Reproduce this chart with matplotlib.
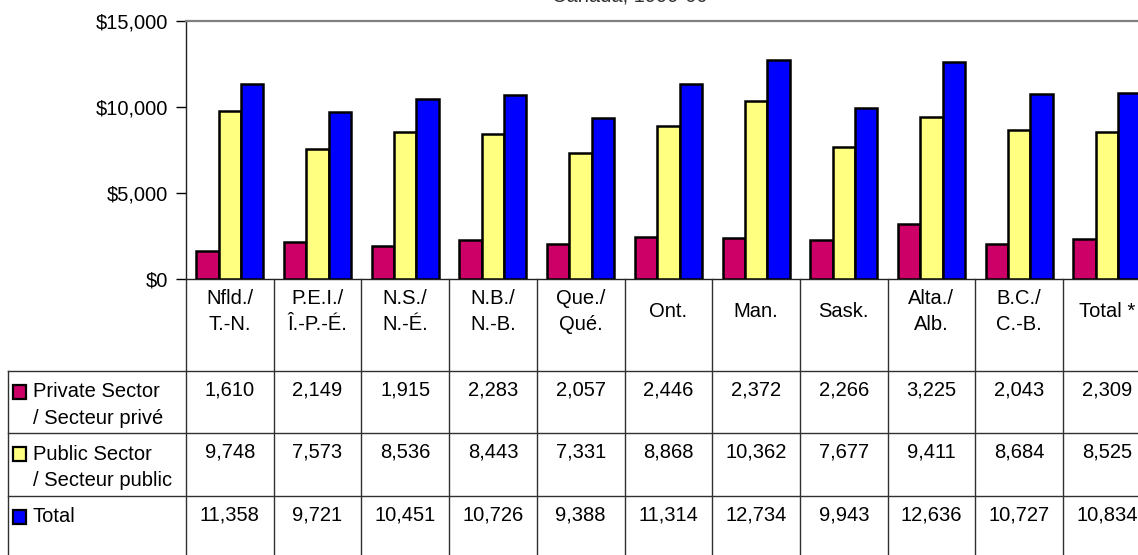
import matplotlib
matplotlib.use("Agg")
import matplotlib.pyplot as plt
import matplotlib.transforms as mtransforms
from matplotlib.patches import Rectangle
from matplotlib.ticker import FuncFormatter

plt.rcParams['font.family'] = ['Liberation Sans', 'DejaVu Sans']

# --- data ---
regions = ['Nfld./\nT.-N.', 'P.E.I./\nÎ.-P.-É.', 'N.S./\nN.-É.', 'N.B./\nN.-B.',
           'Que./\nQué.', 'Ont.', 'Man.', 'Sask.', 'Alta./\nAlb.', 'B.C./\nC.-B.',
           'Total *']
private = [1610, 2149, 1915, 2283, 2057, 2446, 2372, 2266, 3225, 2043, 2309]
public = [9748, 7573, 8536, 8443, 7331, 8868, 10362, 7677, 9411, 8684, 8525]
total = [11358, 9721, 10451, 10726, 9388, 11314, 12734, 9943, 12636, 10727, 10834]

series_names = ['Private Sector\n/ Secteur privé', 'Public Sector\n/ Secteur public', 'Total']
series_colors = ['#CC0066', '#FFFF80', '#0000FF']
y_ticks = [0, 5000, 10000, 15000]

W, H = 1138, 555
FS = 14.5
LINE = 26.5  # pixel gap between text lines in the table

fig = plt.figure(figsize=(W / 100, H / 100), dpi=100)

# plot area in pixel terms (runs past the right edge, as in the reference)
x_left, x_right = 186, 1150.7
y_top, y_zero = 21, 279
ax = fig.add_axes([x_left / W, 1 - y_zero / H, (x_right - x_left) / W, (y_zero - y_top) / H])

n = len(regions)
xs = list(range(n))
bw = 0.255
for k, vals in enumerate([private, public, total]):
    ax.bar([x + (k - 1) * bw for x in xs], vals, width=bw,
           color=series_colors[k], edgecolor='black', linewidth=1.8, zorder=3)

ax.set_xlim(-0.5, n - 0.5)
ax.set_ylim(0, 15000)
ax.set_yticks(y_ticks)
ax.yaxis.set_major_formatter(FuncFormatter(lambda v, p: f"${int(v):,}"))
ax.tick_params(axis='y', length=7, width=1, direction='out', pad=6, labelsize=FS)
ax.set_xticks([])
ax.spines['top'].set_color('#808080')
ax.spines['top'].set_linewidth(1.6)
ax.spines['right'].set_color('#808080')
ax.spines['left'].set_color('#202020')
ax.spines['bottom'].set_color('#202020')
ax.spines['left'].set_linewidth(1)
ax.spines['bottom'].set_linewidth(1)

# title, mostly cut off by the top edge in the reference
fig.text(630 / W, 1 - 1.6 / H, 'Canada, 1999-00', ha='center', va='baseline',
         fontsize=FS, color='#303030')

# --- data table below the chart ---
tab = fig.add_axes([0, 0, 1, 1], facecolor='none')
tab.set_xlim(0, W)
tab.set_ylim(H, 0)
tab.axis('off')
blend = mtransforms.blended_transform_factory(ax.transData, tab.transData)

row_tops = [370.7, 433.3, 495.7]
line_c = '#303030'

# vertical column lines
for i in range(n + 1):
    tab.plot([i - 0.5, i - 0.5], [y_zero, H + 5], color=line_c, lw=1, transform=blend,
             clip_on=False)
# label column left edge
tab.plot([8, 8], [row_tops[0], H + 5], color=line_c, lw=1)
# horizontal row lines
for yt in row_tops:
    tab.plot([8, W + 20], [yt, yt], color=line_c, lw=1, clip_on=False)

# header labels, lines centred on the header row
for i, lab in enumerate(regions):
    parts = lab.split('\n')
    m = len(parts)
    for j, s in enumerate(parts):
        tab.text(i, 311.5 + (j - (m - 1) / 2) * LINE, s, ha='center', va='center',
                 fontsize=FS, transform=blend)

# rows
for r, vals in enumerate([private, public, total]):
    yt = row_tops[r]
    tab.add_patch(Rectangle((13, yt + 14), 13, 14, facecolor=series_colors[r],
                            edgecolor='black', linewidth=1.6))
    for j, s in enumerate(series_names[r].split('\n')):
        tab.text(33, yt + 21 + j * LINE, s, ha='left', va='center', fontsize=FS)
    for i, v in enumerate(vals):
        tab.text(i, yt + 19, f"{v:,}", ha='center', va='center', fontsize=FS,
                 transform=blend)

fig.savefig('out.png', dpi=100)
